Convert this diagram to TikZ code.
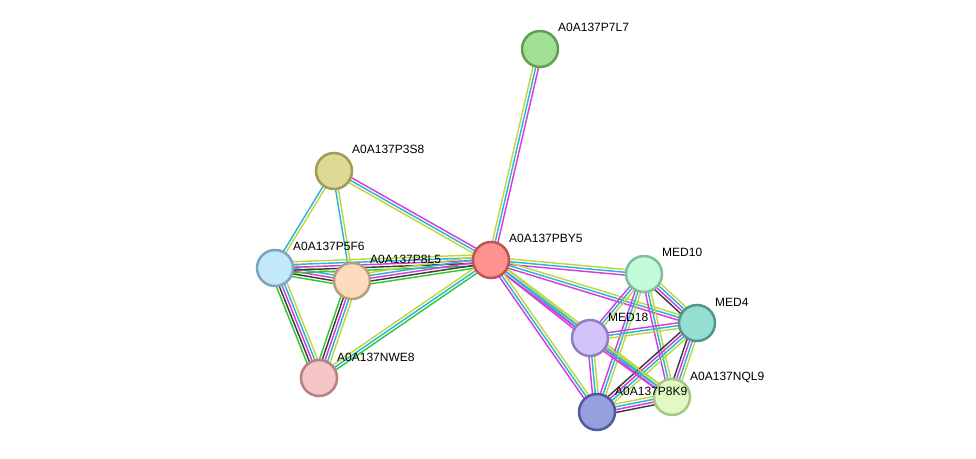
\documentclass[tikz,border=0pt]{standalone}
\usepackage{fontspec}
\setmainfont{Liberation Sans}
\usetikzlibrary{calc, backgrounds}
% evidence colours
\definecolor{nbh}{RGB}{50,200,50}
\definecolor{coex}{RGB}{60,60,60}
\definecolor{expt}{RGB}{214,60,214}
\definecolor{dbs}{RGB}{40,180,220}
\definecolor{txt}{RGB}{190,215,60}
\tikzset{
  prot/.style={circle, minimum size=36pt, inner sep=0pt, line width=2.5pt},
  lbl/.style={anchor=base west, inner sep=0pt, font=\fontsize{12}{14}\selectfont},
  ev/.style={line width=1.45pt}
}
% link between two proteins, one thin line per evidence channel
\newcommand{\lnk}[3]{%
  \foreach \c [count=\i] in {#3} {\xdef\nch{\i}}
  \foreach \c [count=\i] in {#3}
    \draw[ev, \c] ($(#1.center)!{(\i-(\nch+1)/2)*2.8pt}!90:(#2.center)$)
      -- ($(#2.center)!{(\i-(\nch+1)/2)*2.8pt}!-90:(#1.center)$);
}

\begin{document}
\begin{tikzpicture}[x=1pt, y=1pt]
  \useasboundingbox (0,0) rectangle (976,458);

  \node[prot, fill={rgb,255:red,160;green,224;blue,147}, draw={rgb,255:red,98;green,158;blue,86}] (p7l7) at (540,409) {};
  \node[prot, fill={rgb,255:red,222;green,218;blue,150}, draw={rgb,255:red,160;green,155;blue,85}] (p3s8) at (334,287) {};
  \node[prot, fill={rgb,255:red,255;green,145;blue,145}, draw={rgb,255:red,190;green,85;blue,85}] (pby5) at (491,198) {};
  \node[prot, fill={rgb,255:red,195;green,232;blue,250}, draw={rgb,255:red,125;green,165;blue,190}] (p5f6) at (275,190) {};
  \node[prot, fill={rgb,255:red,253;green,220;blue,190}, draw={rgb,255:red,185;green,155;blue,125}] (p8l5) at (352,177) {};
  \node[prot, fill={rgb,255:red,246;green,198;blue,198}, draw={rgb,255:red,180;green,130;blue,130}] (nwe8) at (319,80) {};
  \node[prot, fill={rgb,255:red,195;green,250;blue,215}, draw={rgb,255:red,125;green,190;blue,155}] (med10) at (644,184) {};
  \node[prot, fill={rgb,255:red,150;green,222;blue,210}, draw={rgb,255:red,80;green,150;blue,140}] (med4) at (697,135) {};
  \node[prot, fill={rgb,255:red,210;green,195;blue,250}, draw={rgb,255:red,145;green,125;blue,195}] (med18) at (590,120) {};
  \node[prot, fill={rgb,255:red,150;green,160;blue,220}, draw={rgb,255:red,80;green,90;blue,160}] (p8k9) at (597,46) {};
  \node[prot, fill={rgb,255:red,225;green,250;blue,195}, draw={rgb,255:red,165;green,200;blue,135}] (nql9) at (672,61) {};

  \foreach \n/\t in {p7l7/A0A137P7L7, p3s8/A0A137P3S8, pby5/A0A137PBY5,
      p5f6/A0A137P5F6, p8l5/A0A137P8L5, nwe8/A0A137NWE8, med10/MED10,
      med4/MED4, med18/MED18, p8k9/A0A137P8K9, nql9/A0A137NQL9}
    \node[lbl] (\n-t) at ([shift={(18,17)}]\n.center) {\t};

  \begin{pgfonlayer}{background}
    \lnk{pby5}{p7l7}{expt,dbs,txt}
    \lnk{pby5}{p3s8}{expt,dbs,txt}
    \lnk{p3s8}{p5f6}{dbs,txt}
    \lnk{p3s8}{p8l5}{dbs,txt}
    \lnk{p5f6}{p8l5}{nbh,coex,expt,dbs,txt}
    \lnk{p5f6}{pby5}{nbh,coex,expt,dbs,txt}
    \lnk{p8l5}{pby5}{nbh,coex,expt,dbs,txt}
    \lnk{p5f6}{nwe8}{nbh,coex,expt,dbs,txt}
    \lnk{p8l5}{nwe8}{nbh,coex,expt,dbs,txt}
    \lnk{nwe8}{pby5}{nbh,dbs,txt}
    \lnk{pby5}{med10}{expt,dbs,txt}
    \lnk{pby5}{med4}{expt,dbs,txt}
    \lnk{pby5}{med18}{expt,dbs,txt}
    \lnk{pby5}{nql9}{expt,dbs,txt}
    \lnk{pby5}{p8k9}{expt,dbs,txt}
    \lnk{med10}{med4}{coex,expt,dbs,txt}
    \lnk{med10}{med18}{expt,dbs,txt}
    \lnk{med10}{p8k9}{expt,dbs,txt}
    \lnk{med10}{nql9}{expt,dbs,txt}
    \lnk{med4}{med18}{expt,dbs,txt}
    \lnk{med4}{p8k9}{coex,expt,dbs,txt}
    \lnk{med4}{nql9}{coex,expt,dbs,txt}
    \lnk{med18}{p8k9}{expt,dbs,txt}
    \lnk{med18}{nql9}{expt,dbs,txt}
    \lnk{p8k9}{nql9}{coex,expt,dbs,txt}
  \end{pgfonlayer}
\end{tikzpicture}
\end{document}
